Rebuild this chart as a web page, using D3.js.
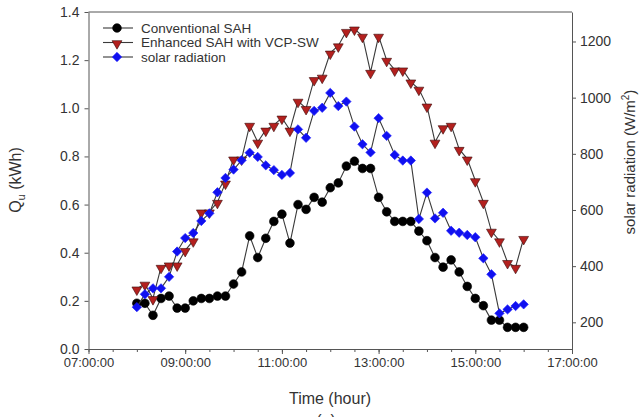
<!DOCTYPE html>
<html>
<head>
<meta charset="utf-8">
<script src="https://cdn.jsdelivr.net/npm/d3@7"></script>
<style>
  html, body { margin: 0; padding: 0; background: #fff; }
  svg { display: block; font-family: "Liberation Sans", Arial, sans-serif; }
</style>
</head>
<body>
<svg id="chart" width="642" height="417"></svg>
<script>
// Sampling times (10-minute logging interval)
const times = [
  "08:00","08:10","08:20","08:30","08:40","08:50",
  "09:00","09:10","09:20","09:30","09:40","09:50",
  "10:00","10:10","10:20","10:30","10:40","10:50",
  "11:00","11:10","11:20","11:30","11:40","11:50",
  "12:00","12:10","12:20","12:30","12:40","12:50",
  "13:00","13:10","13:20","13:30","13:40","13:50",
  "14:00","14:10","14:20","14:30","14:40","14:50",
  "15:00","15:10","15:20","15:30","15:40","15:50",
  "16:00"
];

// Useful heat gain Qu (kWh) - conventional solar air heater
const conventionalSAH = [
  0.19, 0.19, 0.14, 0.21, 0.22, 0.17, 0.17, 0.20, 0.21, 0.21,
  0.22, 0.22, 0.27, 0.32, 0.47, 0.38, 0.46, 0.53, 0.56, 0.44,
  0.60, 0.58, 0.63, 0.61, 0.67, 0.69, 0.76, 0.78, 0.75, 0.75,
  0.63, 0.57, 0.53, 0.53, 0.53, 0.49, 0.45, 0.38, 0.34, 0.37,
  0.32, 0.26, 0.21, 0.18, 0.12, 0.12, 0.09, 0.09, 0.09
];

// Useful heat gain Qu (kWh) - enhanced SAH with VCP-SW
const enhancedSAH = [
  0.25, 0.27, 0.21, 0.34, 0.35, 0.35, 0.41, 0.45, 0.57, 0.57,
  0.61, 0.69, 0.79, 0.79, 0.93, 0.86, 0.91, 0.93, 0.96, 0.91,
  1.03, 1.00, 1.12, 1.13, 1.23, 1.26, 1.32, 1.33, 1.30, 1.15,
  1.30, 1.20, 1.16, 1.16, 1.11, 1.08, 1.01, 0.86, 0.92, 0.93,
  0.83, 0.79, 0.70, 0.61, 0.49, 0.45, 0.36, 0.34, 0.46
];

// Solar radiation (W/m2), plotted on the right axis
const solarRadiation = [
  254, 300, 321, 321, 362, 452, 500, 518, 561, 588,
  663, 714, 744, 777, 804, 789, 759, 742, 725, 732,
  887, 857, 953, 964, 1017, 970, 986, 897, 834, 805,
  927, 864, 796, 776, 776, 568, 662, 570, 590, 526,
  519, 511, 503, 428, 371, 232, 246, 258, 264
];

const xTickLabels = ["07:00:00","09:00:00","11:00:00","13:00:00","15:00:00","17:00:00"];
const leftTicks = [0.0, 0.2, 0.4, 0.6, 0.8, 1.0, 1.2, 1.4];
const rightTicks = [200, 400, 600, 800, 1000, 1200];
const seriesNames = ["Conventional SAH", "Enhanced SAH with VCP-SW", "solar radiation"];

const svg = d3.select("#chart");
const plot = { left: 88.5, right: 572, top: 12, bottom: 349 };

const parseHM = d3.timeParse("%H:%M");
const parseHMS = d3.timeParse("%H:%M:%S");
const fmt = d3.timeFormat("%H:%M:%S");

const x = d3.scaleTime()
  .domain([parseHMS("07:00:00"), parseHMS("17:00:00")])
  .range([plot.left, plot.right]);
const yL = d3.scaleLinear().domain([0, 1.4]).range([plot.bottom, plot.top]);
const yR = d3.scaleLinear().domain([105, 1305]).range([plot.bottom, plot.top]);

const axisColor = "#555";
const textColor = "#333";
const fontFamily = "'Liberation Sans', Arial, sans-serif";

// Frame (top edge); the three axes supply the other sides
svg.append("line")
  .attr("x1", plot.left).attr("x2", plot.right)
  .attr("y1", plot.top).attr("y2", plot.top)
  .attr("stroke", axisColor).attr("stroke-width", 1);

// Bottom axis: minor ticks every 30 min, labelled ticks every 2 h
const minorTicks = d3.timeMinute.every(30).range(x.domain()[0], new Date(x.domain()[1].getTime() + 1));
svg.append("g")
  .attr("transform", `translate(0,${plot.bottom})`)
  .call(d3.axisBottom(x).tickValues(minorTicks).tickSize(3).tickFormat(""))
  .call(g => g.select(".domain").remove())
  .call(g => g.selectAll("line").attr("stroke", axisColor));

svg.append("g")
  .attr("transform", `translate(0,${plot.bottom})`)
  .call(d3.axisBottom(x)
    .tickValues(xTickLabels.map(parseHMS))
    .tickSize(5).tickSizeOuter(0).tickPadding(4)
    .tickFormat(fmt))
  .call(g => g.select(".domain").attr("stroke", axisColor))
  .call(g => g.selectAll("line").attr("stroke", axisColor))
  .call(g => g.selectAll("text")
    .attr("fill", textColor).attr("font-size", 13)
    .style("font-family", fontFamily));

// Left axis (Qu)
svg.append("g")
  .attr("transform", `translate(${plot.left},0)`)
  .call(d3.axisLeft(yL).tickValues(leftTicks).tickSize(4).tickSizeOuter(0)
    .tickPadding(5).tickFormat(d3.format(".1f")))
  .call(g => g.select(".domain").attr("stroke", axisColor))
  .call(g => g.selectAll("line").attr("stroke", axisColor))
  .call(g => g.selectAll("text")
    .attr("fill", textColor).attr("font-size", 14)
    .style("font-family", fontFamily));

// Right axis (solar radiation)
svg.append("g")
  .attr("transform", `translate(${plot.right},0)`)
  .call(d3.axisRight(yR).tickValues(rightTicks).tickSize(4).tickSizeOuter(0)
    .tickPadding(4).tickFormat(d3.format("d")))
  .call(g => g.select(".domain").attr("stroke", axisColor))
  .call(g => g.selectAll("line").attr("stroke", axisColor))
  .call(g => g.selectAll("text")
    .attr("fill", textColor).attr("font-size", 14)
    .style("font-family", fontFamily));

// Axis titles
svg.append("text")
  .attr("x", 330).attr("y", 404)
  .attr("text-anchor", "middle").attr("font-size", 16).attr("fill", textColor)
  .text("Time (hour)");

const yt = svg.append("text")
  .attr("transform", "translate(21,180) rotate(-90)")
  .attr("text-anchor", "middle").attr("font-size", 16).attr("fill", textColor);
yt.append("tspan").text("Q");
yt.append("tspan").attr("font-size", 11).attr("dy", 4).text("u");
yt.append("tspan").attr("dy", -4).text(" (kWh)");

const rt = svg.append("text")
  .attr("transform", "translate(635,162) rotate(-90)")
  .attr("text-anchor", "middle").attr("font-size", 15).attr("fill", textColor);
rt.append("tspan").text("solar radiation (W/m");
rt.append("tspan").attr("font-size", 10).attr("dy", -6).text("2");
rt.append("tspan").attr("dy", 6).text(")");

// Panel caption, partly below the page edge
svg.append("text")
  .attr("x", 326).attr("y", 426)
  .attr("text-anchor", "middle").attr("font-size", 16).attr("fill", textColor)
  .text("(a)");

// Series: black circles, red down-triangles, blue diamonds (squares turned 45°)
const lineColor = "#3a3a3a";
const series = [
  { name: seriesNames[0], values: conventionalSAH, y: yL, symbol: d3.symbolCircle, size: 60, fill: "#000", stroke: "#000", rot: 0, dy: 0 },
  { name: seriesNames[1], values: enhancedSAH, y: yL, symbol: d3.symbolTriangle, size: 42, fill: "#b3201e", stroke: "#3a0a0a", rot: 180, dy: 1 },
  { name: seriesNames[2], values: solarRadiation, y: yR, symbol: d3.symbolSquare, size: 44, fill: "#1010f0", stroke: "#2020ff", rot: 45, dy: 0 }
];

const xs = times.map(t => x(parseHM(t)));

series.forEach(s => {
  const line = d3.line().x((d, i) => xs[i]).y(d => s.y(d));
  svg.append("path")
    .datum(s.values)
    .attr("d", line)
    .attr("fill", "none")
    .attr("stroke", lineColor)
    .attr("stroke-width", 1.1);
  svg.append("g")
    .selectAll("path")
    .data(s.values)
    .join("path")
    .attr("d", d3.symbol().type(s.symbol).size(s.size))
    .attr("transform", (d, i) => `translate(${xs[i]},${s.y(d) + s.dy}) rotate(${s.rot})`)
    .attr("fill", s.fill)
    .attr("stroke", s.stroke)
    .attr("stroke-width", 0.6);
});

// Legend
const legend = svg.append("g");
const legendRows = [28, 42.5, 57];
series.forEach((s, i) => {
  const gy = legendRows[i];
  legend.append("line")
    .attr("x1", 103).attr("x2", 133).attr("y1", gy).attr("y2", gy)
    .attr("stroke", lineColor).attr("stroke-width", 1.1);
  legend.append("path")
    .attr("d", d3.symbol().type(s.symbol).size(s.size))
    .attr("transform", `translate(117,${gy + s.dy}) rotate(${s.rot})`)
    .attr("fill", s.fill).attr("stroke", s.stroke).attr("stroke-width", 0.6);
  legend.append("text")
    .attr("x", 141).attr("y", gy).attr("dy", "0.35em")
    .attr("font-size", 13.5).attr("fill", textColor)
    .text(s.name);
});
</script>
</body>
</html>
